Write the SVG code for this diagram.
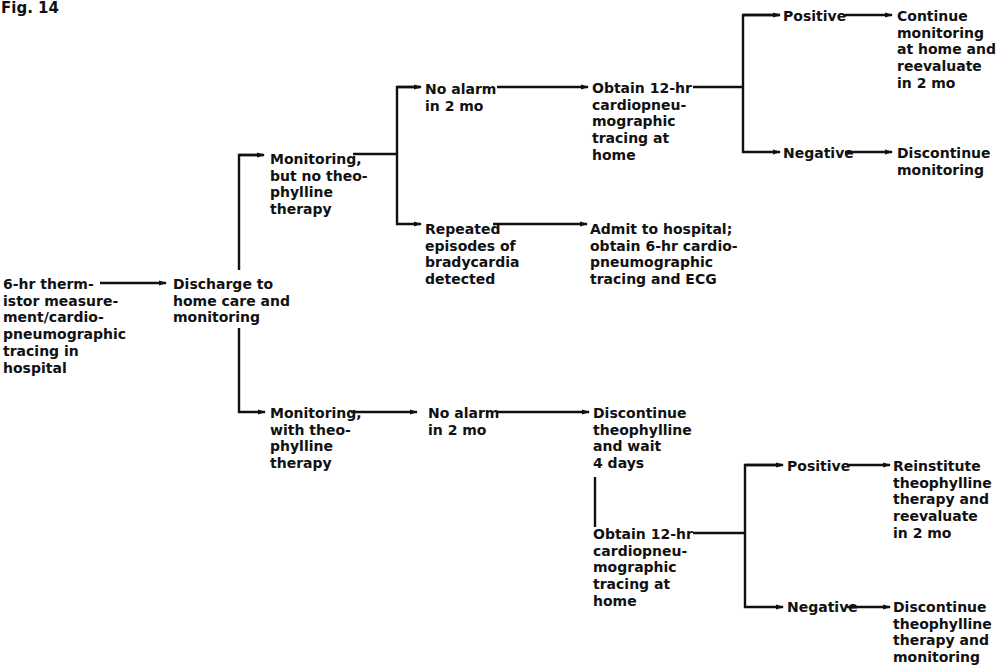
<svg xmlns="http://www.w3.org/2000/svg" width="1004" height="666" viewBox="0 0 1004 666">
<defs>
<marker id="ah" markerUnits="userSpaceOnUse" markerWidth="8" markerHeight="6" refX="7" refY="3" orient="auto">
<path d="M0,0.6 L8,3 L0,5.4 z" fill="#111"/>
</marker>
<style>
text{font-family:"DejaVu Sans","Liberation Sans",sans-serif;font-weight:bold;font-size:14px;fill:#111}
.c line,.c path{stroke:#111;stroke-width:2.4;fill:none}
.a{marker-end:url(#ah)}
</style>
</defs>
<rect width="1004" height="666" fill="#fff"/>
<text id="fig" x="1" y="13" style="font-size:15px">Fig. 14</text>

<g class="c" id="connectors">
<line class="a" x1="100" y1="283" x2="166" y2="283"/>
<path d="M263,155 H239 V270"/>
<path d="M239,328 V412 H265" class="a"/>
<line x1="239" y1="155" x2="264" y2="155" class="a"/>
<path d="M353,154 H397"/>
<path d="M420,87 H397 V224 H421" class="a"/>
<line x1="397" y1="87" x2="421" y2="87" class="a"/>
<line class="a" x1="497" y1="87" x2="588" y2="87"/>
<path d="M693,87 H743"/>
<path d="M779,15 H743 V152 H780" class="a"/>
<line x1="743" y1="15" x2="780" y2="15" class="a"/>
<line class="a" x1="845" y1="15" x2="892" y2="15"/>
<line class="a" x1="845" y1="152" x2="892" y2="152"/>
<line class="a" x1="493" y1="224" x2="587" y2="224"/>
<line class="a" x1="351" y1="412" x2="417" y2="412"/>
<line class="a" x1="497" y1="412" x2="589" y2="412"/>
<line x1="595" y1="477" x2="595" y2="527"/>
<path d="M693,533 H745"/>
<path d="M781,465 H745 V607 H783" class="a"/>
<line x1="745" y1="465" x2="783" y2="465" class="a"/>
<line class="a" x1="847" y1="465" x2="890" y2="465"/>
<line class="a" x1="847" y1="607" x2="890" y2="607"/>
</g>

<g id="n-start"><text x="3" y="289"><tspan x="3">6-hr therm-</tspan><tspan x="3" dy="16.7">istor measure-</tspan><tspan x="3" dy="16.7">ment/cardio-</tspan><tspan x="3" dy="16.7">pneumographic</tspan><tspan x="3" dy="16.7">tracing in</tspan><tspan x="3" dy="16.7">hospital</tspan></text></g>
<g id="n-discharge"><text x="173" y="289"><tspan x="173">Discharge to</tspan><tspan x="173" dy="16.7">home care and</tspan><tspan x="173" dy="16.7">monitoring</tspan></text></g>
<g id="n-mon-no"><text x="270" y="164"><tspan x="270">Monitoring,</tspan><tspan x="270" dy="16.7">but no theo-</tspan><tspan x="270" dy="16.7">phylline</tspan><tspan x="270" dy="16.7">therapy</tspan></text></g>
<g id="n-noalarm1"><text x="425" y="94"><tspan x="425">No alarm</tspan><tspan x="425" dy="16.7">in 2 mo</tspan></text></g>
<g id="n-obtain1"><text x="592" y="93"><tspan x="592">Obtain 12-hr</tspan><tspan x="592" dy="16.7">cardiopneu-</tspan><tspan x="592" dy="16.7">mographic</tspan><tspan x="592" dy="16.7">tracing at</tspan><tspan x="592" dy="16.7">home</tspan></text></g>
<g id="n-pos1"><text x="783" y="21">Positive</text></g>
<g id="n-cont"><text x="897" y="21"><tspan x="897">Continue</tspan><tspan x="897" dy="16.7">monitoring</tspan><tspan x="897" dy="16.7">at home and</tspan><tspan x="897" dy="16.7">reevaluate</tspan><tspan x="897" dy="16.7">in 2 mo</tspan></text></g>
<g id="n-neg1"><text x="783" y="158">Negative</text></g>
<g id="n-disc1"><text x="897" y="158"><tspan x="897">Discontinue</tspan><tspan x="897" dy="16.7">monitoring</tspan></text></g>
<g id="n-repeated"><text x="425" y="234"><tspan x="425">Repeated</tspan><tspan x="425" dy="16.7">episodes of</tspan><tspan x="425" dy="16.7">bradycardia</tspan><tspan x="425" dy="16.7">detected</tspan></text></g>
<g id="n-admit"><text x="590" y="234"><tspan x="590">Admit to hospital;</tspan><tspan x="590" dy="16.7">obtain 6-hr cardio-</tspan><tspan x="590" dy="16.7">pneumographic</tspan><tspan x="590" dy="16.7">tracing and ECG</tspan></text></g>
<g id="n-mon-with"><text x="270" y="418"><tspan x="270">Monitoring,</tspan><tspan x="270" dy="16.7">with theo-</tspan><tspan x="270" dy="16.7">phylline</tspan><tspan x="270" dy="16.7">therapy</tspan></text></g>
<g id="n-noalarm2"><text x="428" y="418"><tspan x="428">No alarm</tspan><tspan x="428" dy="16.7">in 2 mo</tspan></text></g>
<g id="n-disc-theo"><text x="593" y="418"><tspan x="593">Discontinue</tspan><tspan x="593" dy="16.7">theophylline</tspan><tspan x="593" dy="16.7">and wait</tspan><tspan x="593" dy="16.7">4 days</tspan></text></g>
<g id="n-obtain2"><text x="593" y="539"><tspan x="593">Obtain 12-hr</tspan><tspan x="593" dy="16.7">cardiopneu-</tspan><tspan x="593" dy="16.7">mographic</tspan><tspan x="593" dy="16.7">tracing at</tspan><tspan x="593" dy="16.7">home</tspan></text></g>
<g id="n-pos2"><text x="787" y="471">Positive</text></g>
<g id="n-reinst"><text x="893" y="471"><tspan x="893">Reinstitute</tspan><tspan x="893" dy="16.7">theophylline</tspan><tspan x="893" dy="16.7">therapy and</tspan><tspan x="893" dy="16.7">reevaluate</tspan><tspan x="893" dy="16.7">in 2 mo</tspan></text></g>
<g id="n-neg2"><text x="787" y="612">Negative</text></g>
<g id="n-disc2"><text x="893" y="612"><tspan x="893">Discontinue</tspan><tspan x="893" dy="16.7">theophylline</tspan><tspan x="893" dy="16.7">therapy and</tspan><tspan x="893" dy="16.7">monitoring</tspan></text></g>
</svg>
